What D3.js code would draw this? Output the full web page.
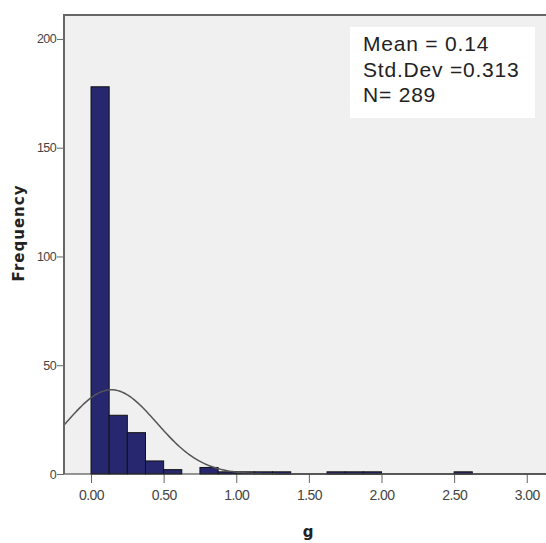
<!DOCTYPE html>
<meta charset="utf-8">
<style>
body { margin: 0; background: #fff; }
svg { display: block; }
.frame { fill: #f0f0f0; }
.border { fill: none; stroke: #666; stroke-width: 2px; }
.bar { fill: #27276f; stroke: #111; stroke-width: 1px; }
.curve { fill: none; stroke: #555; stroke-width: 1.5px; }
.axis path, .axis line { stroke: #666; }
.axis text { font-family: "Liberation Sans", Arial, sans-serif; fill: #444; }
.title { font-family: "DejaVu Sans", sans-serif; font-weight: bold; font-size: 15px; fill: #222; }
.stats { font-family: "Liberation Sans", Arial, sans-serif; font-size: 21px; fill: #222; letter-spacing: 0.8px; }
</style>
<svg width="546" height="543"></svg>
<script src="https://cdn.jsdelivr.net/npm/d3@7"></script>
<script>

// histogram of g, bins of 0.125 starting at 0
var binWidth = 0.125;
var counts = [178, 27, 19, 6, 2, 0, 3, 1, 1, 1, 1, 0, 0, 1, 1, 1, 0, 0, 0, 0, 1];
var xTicks = [0, 0.5, 1, 1.5, 2, 2.5, 3];
var yTicks = [0, 50, 100, 150, 200];
var statLines = ["Mean = 0.14", "Std.Dev =0.313", "N= 289"];
var mean = 0.14, sd = 0.313;

var svg = d3.select("svg");

var x = d3.scaleLinear().domain([-0.186, 3.16]).range([64, 550]);
var y = d3.scaleLinear().domain([0, 211]).range([474, 15]);

var bins = counts.map(function(c, i) {
  return { x0: i * binWidth, x1: (i + 1) * binWidth, n: c };
});

svg.append("rect")
    .attr("class", "frame")
    .attr("x", x.range()[0]).attr("y", y.range()[1])
    .attr("width", x.range()[1] - x.range()[0])
    .attr("height", y.range()[0] - y.range()[1]);

// stats box
var box = svg.append("g");
box.append("rect")
    .attr("x", 350).attr("y", 27).attr("width", 185).attr("height", 91)
    .attr("fill", "#fff");
box.selectAll("text")
    .data(statLines)
  .enter().append("text")
    .attr("class", "stats")
    .attr("x", 363)
    .attr("y", function(d, i) { return 51 + i * 25.5; })
    .text(function(d) { return d; });

svg.append("g")
  .selectAll("rect")
    .data(bins.filter(function(d) { return d.n > 0; }))
  .enter().append("rect")
    .attr("class", "bar")
    .attr("x", function(d) { return x(d.x0); })
    .attr("width", function(d) { return x(d.x1) - x(d.x0); })
    .attr("y", function(d) { return y(d.n); })
    .attr("height", function(d) { return y(0) - y(d.n); });

// normal curve scaled to the histogram
var total = d3.sum(counts);
var pts = d3.range(x.domain()[0], x.domain()[1], 0.01).map(function(v) {
  var z = (v - mean) / sd;
  return [v, total * binWidth * Math.exp(-z * z / 2) / (sd * Math.sqrt(2 * Math.PI))];
});
svg.append("path")
    .attr("class", "curve")
    .attr("d", d3.line().x(function(d) { return x(d[0]); }).y(function(d) { return y(d[1]); })(pts));

var xAxis = svg.append("g")
    .attr("class", "axis")
    .attr("transform", "translate(0," + y(0) + ")")
    .call(d3.axisBottom(x).tickValues(xTicks).tickFormat(d3.format(".2f")).tickSize(9).tickSizeOuter(0));
xAxis.select(".domain").remove();
xAxis.selectAll("text").attr("font-size", 14).attr("dy", "1.0em").style("letter-spacing", "-0.6px");

var yAxis = svg.append("g")
    .attr("class", "axis")
    .attr("transform", "translate(" + x.range()[0] + ",0)")
    .call(d3.axisLeft(y).tickValues(yTicks).tickSize(7).tickSizeOuter(0));
yAxis.select(".domain").remove();
yAxis.selectAll("text").attr("font-size", 12.5).attr("x", -8).style("letter-spacing", "-0.6px");

// baseline and frame border
svg.append("line")
    .attr("x1", x.range()[0]).attr("x2", x.range()[1])
    .attr("y1", y(0)).attr("y2", y(0))
    .attr("stroke", "#333").attr("stroke-width", 1.2);
svg.append("path")
    .attr("class", "border")
    .attr("d", "M" + x.range()[0] + "," + y.range()[0] + "V" + y.range()[1] + "H" + x.range()[1]);

svg.append("text")
    .attr("class", "title")
    .attr("transform", "translate(24,233) rotate(-90)")
    .attr("text-anchor", "middle")
    .style("letter-spacing", "1px")
    .text("Frequency");

svg.append("text")
    .attr("class", "title")
    .attr("x", 308).attr("y", 537)
    .attr("text-anchor", "middle")
    .text("g");

</script>
